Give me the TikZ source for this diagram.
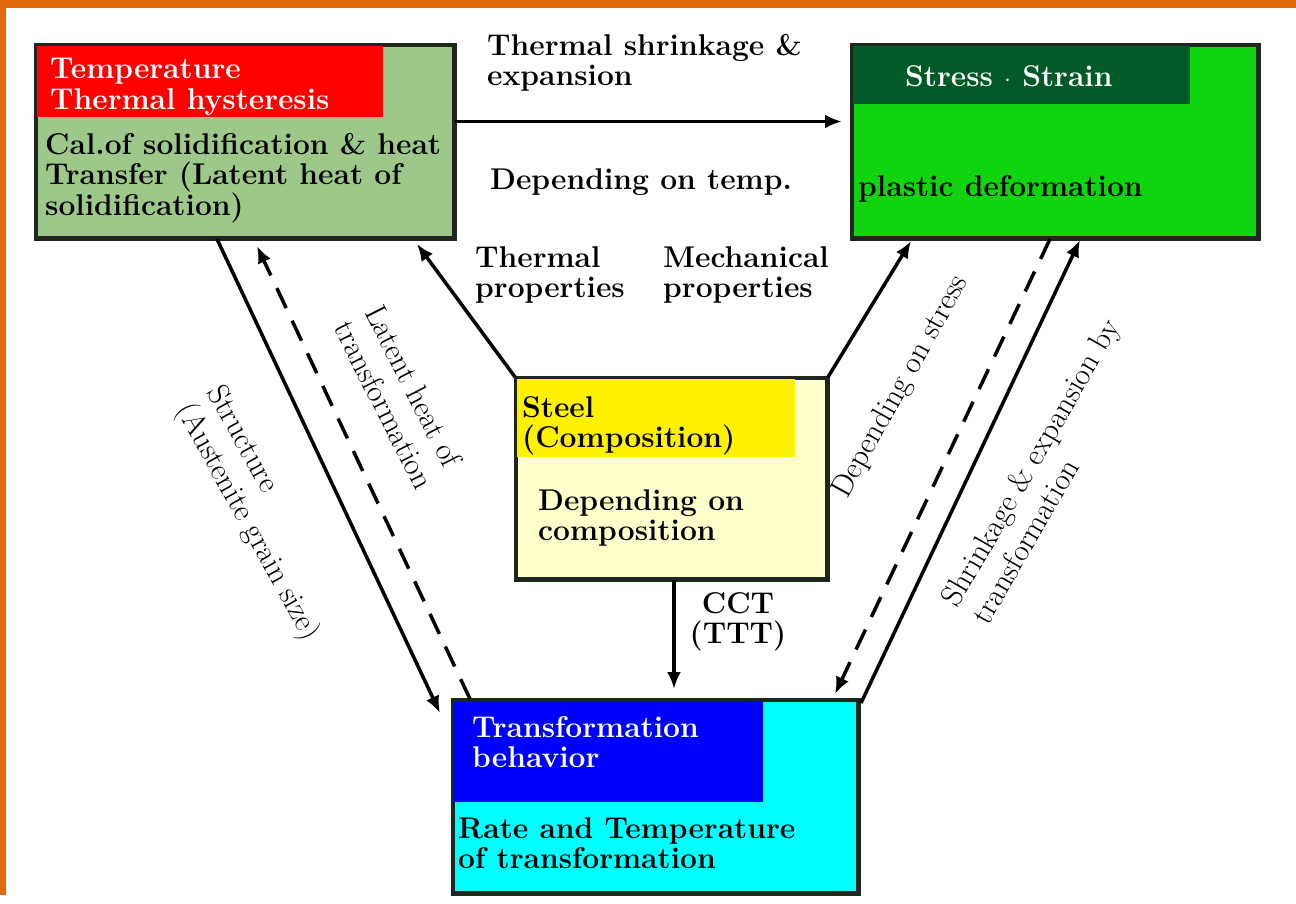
\documentclass[tikz,border=0pt]{standalone}
\usepackage{fontspec}
\usetikzlibrary{arrows.meta}
\definecolor{frameorange}{RGB}{226,104,12}
\definecolor{tlgreen}{RGB}{157,200,138}
\definecolor{trgreen}{RGB}{17,212,17}
\definecolor{trhead}{RGB}{0,90,40}
\definecolor{cyellow}{RGB}{255,255,204}
\definecolor{bcyan}{RGB}{0,255,255}
\definecolor{bblue}{RGB}{0,0,255}
\definecolor{boxline}{RGB}{30,38,30}
\begin{document}
\begin{tikzpicture}[x=1pt,y=-1pt,
  boxshape/.style={draw=boxline, line width=3pt, inner sep=0pt, anchor=north west},
  bt/.style={font=\bfseries\fontsize{30}{30.5}\selectfont, align=left, inner sep=0pt},
  rt/.style={font=\fontsize{31}{35}\selectfont, align=left, inner sep=0pt},
  conn/.style={line width=3.5pt, -{Latex[length=17pt,width=14pt]}},
  dconn/.style={conn, dash pattern=on 22pt off 14pt}]
\useasboundingbox (0,0) rectangle (1296,903);
\fill[white] (0,0) rectangle (1296,903);
\fill[frameorange] (0,0) rectangle (1296,8);
\fill[frameorange] (0,0) rectangle (6,895);

% top-left box
\node[boxshape, fill=tlgreen, minimum width=417pt, minimum height=192pt] (TL) at (35,44) {};
\fill[red] (TL.north west) rectangle (383,117);
\draw[draw=boxline, line width=3pt] (TL.north west) rectangle (TL.south east);
\node[bt, text=white, anchor=west] (tlhead) at (50,87) {Temperature\\Thermal hysteresis};
\node[bt, anchor=west] (tlbody) at (45,178) {Cal.of solidification \& heat\\Transfer (Latent heat of\\solidification)};

% top-right box
\node[boxshape, fill=trgreen, minimum width=405pt, minimum height=192pt] (TR) at (851,44) {};
\fill[trhead] (TR.north west) rectangle (1190,104);
\draw[draw=boxline, line width=3pt] (TR.north west) rectangle (TR.south east);
\node[bt, text=white, anchor=west] (trhead) at (905,76) {Stress $\cdot$ Strain};
\node[bt, anchor=west] (trbody) at (858,189) {plastic deformation};

% centre box
\node[boxshape, fill=cyellow, minimum width=310pt, minimum height=200pt] (C) at (515,377) {};
\fill[yellow] (C.north west) rectangle (795,457);
\draw[draw=boxline, line width=3pt] (C.north west) rectangle (C.south east);
\node[bt, anchor=west] (chead) at (522,426) {Steel\\(Composition)};
\node[bt, anchor=west] (cbody) at (538,518) {Depending on\\composition};

% bottom box
\node[boxshape, fill=bcyan, minimum width=404pt, minimum height=192pt] (B) at (452,699) {};
\fill[bblue] (B.north west) rectangle (763,802);
\draw[draw=boxline, line width=3pt] (B.north west) rectangle (B.south east);
\node[bt, text=white, anchor=west] (bhead) at (472,742) {Transformation\\behavior};
\node[bt, anchor=west] (bbody) at (458,843) {Rate and Temperature\\of transformation};

% connectors
\draw[conn, shorten >=9pt] ([yshift=20pt]TL.east) -- ([yshift=20pt]TR.west);
\draw[conn] (C.north west) -- ([xshift=-38pt,yshift=-5pt]TL.south east);
\draw[conn] (C.north east) -- ([xshift=60pt,yshift=-2pt]TR.south west);
\draw[conn] ([xshift=182pt]TL.south west) -- ([xshift=-12pt,yshift=-14pt]B.north west);
\draw[dconn] ([xshift=18pt]B.north west) -- ([xshift=222pt,yshift=-7pt]TL.south west);
\draw[conn, shorten >=10pt] (C.south -| 674,0) -- (B.north -| 674,0);
\draw[dconn] ([xshift=199pt]TR.south west) -- ([xshift=-24pt,yshift=5pt]B.north east);
\draw[conn] ([xshift=2pt,yshift=-4pt]B.north east) -- ([xshift=229pt,yshift=-1pt]TR.south west);

% labels
\node[bt, anchor=west] (lshr) at (487,63) {Thermal shrinkage \&\\expansion};
\node[bt, anchor=west] (ldep) at (490,182) {Depending on temp.};
\node[bt, anchor=west] (lthp) at (475,275) {Thermal\\properties};
\node[bt, anchor=west] (lmep) at (663,275) {Mechanical\\properties};
\node[bt, align=center] (lcct) at (738,622) {CCT\\(TTT)};
\node[rt, rotate=-63] (llat) at (400,397) {Latent heat of\\transformation};
\node[rt, rotate=-61] (lstr) at (262,514) {Structure\\(Austenite grain size)};
\node[rt, rotate=61] (lstress) at (901,387) {Depending on stress};
\node[rt, rotate=60] (lexp) at (1045,471) {Shrinkage \& expansion by\\transformation};
\end{tikzpicture}
\end{document}
